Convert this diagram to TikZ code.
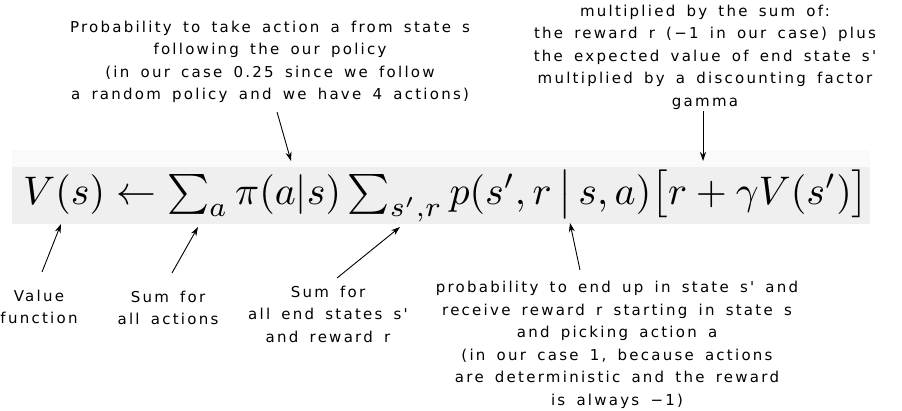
\documentclass[tikz,border=0pt]{standalone}
\usepackage{fontspec}
\usepackage{amsmath}
\usepackage{graphicx}
\usetikzlibrary{arrows.meta}
\newfontfamily\hand[LetterSpace=15,WordSpace=1.6]{DejaVu Sans}
\definecolor{bandgray}{HTML}{EFEFEF}
\definecolor{stripgray}{HTML}{FAFAFA}
\begin{document}
\begin{tikzpicture}[x=1pt,y=-1pt,
  note/.style={font=\hand\fontsize{15}{22.5}\selectfont,align=center,inner sep=0pt},
  arr/.style={-{Stealth[length=9pt,width=6pt]},line width=0.9pt}]
\useasboundingbox (0,0) rectangle (902,411);
% background band
\fill[stripgray] (12,150) rectangle (870,167);
\fill[bandgray] (12,167) rectangle (870,224);
% formula
\node[inner sep=0pt,anchor=west] (eq) at (23,196) {\resizebox{845pt}{!}{$V(s)\leftarrow \sum_a \pi(a|s)\sum_{s',r} p(s',r\,\big|\,s,a)\big[r+\gamma V(s')\big]$}};
% annotations
\node[note] (t1) at (270,62) {Probability to take action a from state s\\following the our policy\\(in our case 0.25 since we follow\\a random policy and we have 4 actions)};
\node[note] (t2) at (705,57) {multiplied by the sum of:\\the reward r (−1 in our case) plus\\the expected value of end state s'\\multiplied by a discounting factor\\gamma};
\node[note] (b1) at (39,307) {Value\\function};
\node[note] (b2) at (168,308) {Sum for\\all actions};
\node[note] (b3) at (328,314) {Sum for\\all end states s'\\and reward r};
\node[note] (b4) at (617,345) {probability to end up in state s' and\\receive reward r starting in state s\\and picking action a\\(in our case 1, because actions\\are deterministic and the reward\\is always −1)};
% arrow endpoints
\coordinate (t1s) at (277,112); \coordinate (t1e) at (291,161);
\coordinate (t2s) at (703,111); \coordinate (t2e) at (703,161);
\coordinate (b1s) at (42,272);  \coordinate (b1e) at (61,224);
\coordinate (b2s) at (172,273); \coordinate (b2e) at (198,227);
\coordinate (b3s) at (337,278); \coordinate (b3e) at (400,227);
\coordinate (b4s) at (580,270); \coordinate (b4e) at (570,223);
\draw[arr] (t1s) -- (t1e);
\draw[arr] (t2s) -- (t2e);
\draw[arr] (b1s) -- (b1e);
\draw[arr] (b2s) -- (b2e);
\draw[arr] (b3s) -- (b3e);
\draw[arr] (b4s) -- (b4e);
\end{tikzpicture}
\end{document}
